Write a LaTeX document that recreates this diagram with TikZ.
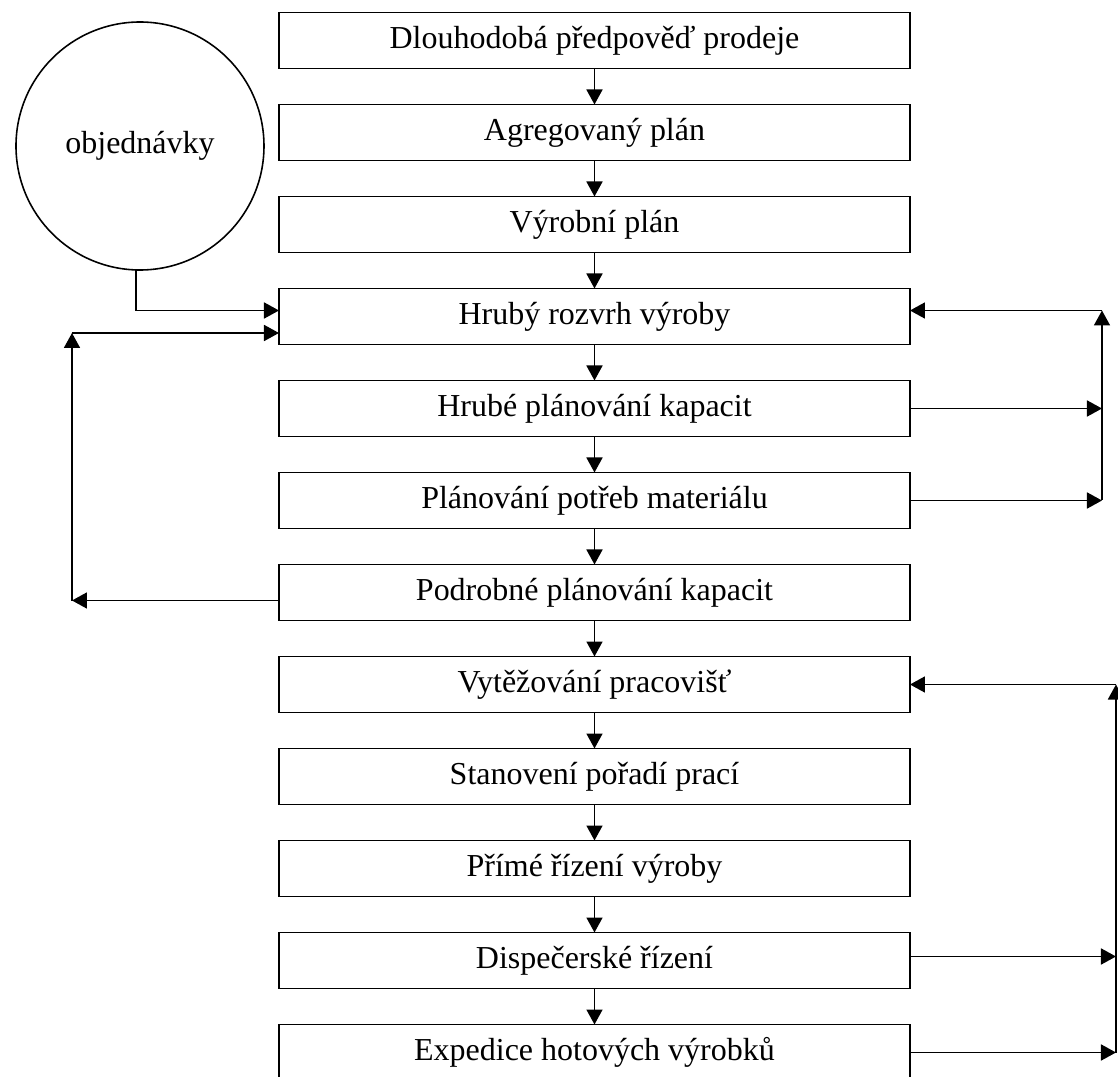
\documentclass[tikz,border=0pt]{standalone}
\usepackage{fontspec}
\setmainfont{Liberation Serif}
\usepackage{tikz}
\usetikzlibrary{arrows.meta,positioning,calc}
\tikzset{
  planbox/.style={draw,line width=0.9pt,minimum width=12.62cm,minimum height=1.12cm,
    inner sep=0pt,outer sep=0pt,align=center,font=\fontsize{18.2}{22}\selectfont},
  orders/.style={draw,line width=0.9pt,circle,minimum size=4.96cm,inner sep=0pt,
    outer sep=0pt,font=\fontsize{18.2}{22}\selectfont},
  arrow/.style={-{Triangle[length=0.3cm,width=0.32cm]},line width=1pt}
}
\begin{document}
\begin{tikzpicture}[node distance=0.72cm]
      \clip (-11.89,0.81) rectangle (10.47,-20.73);
      \node[planbox] (a) {Dlouhodobá předpověď prodeje};
      \node[planbox,below=of a] (b) {Agregovaný plán};
      \node[planbox,below=of b] (c) {Výrobní plán};
      \node[planbox,below=of c] (d) {Hrubý rozvrh výroby};
      \node[planbox,below=of d] (e) {Hrubé plánování kapacit};
      \node[planbox,below=of e] (f) {Plánování potřeb materiálu};
      \node[planbox,below=of f] (g) {Podrobné plánování kapacit};
      \node[planbox,below=of g] (h) {Vytěžování pracovišť};
      \node[planbox,below=of h] (i) {Stanovení pořadí prací};
      \node[planbox,below=of i] (j) {Přímé řízení výroby};
      \node[planbox,below=of j] (k) {Dispečerské řízení};
      \node[planbox,below=of k] (l) {Expedice hotových výrobků};
      \node[orders,left=0.3cm of b,yshift=-0.27cm] (obj) {objednávky};
      \foreach \u/\v in {a/b,b/c,c/d,d/e,e/f,f/g,g/h,h/i,i/j,j/k,k/l}
        \draw[arrow] (\u)--(\v);
      % orders and feedback on the left
      \draw[arrow] ([xshift=-0.08cm]obj.south) |- ([yshift=0.12cm]d.west);
      \coordinate (lb) at ($(g.west)+(-4.14,-0.16)$);
      \coordinate (lt) at ($(d.west)+(-4.14,-0.33)$);
      \draw[arrow] ([yshift=-0.16cm]g.west)--(lb);
      \draw[arrow] (lb)--(lt);
      \draw[arrow] (lt)--([yshift=-0.33cm]d.west);
      % capacity loop
      \coordinate (rb) at ($(f.east)+(3.84,0)$);
      \coordinate (rt) at ($(d.east)+(3.84,0.12)$);
      \draw[arrow] (e.east)--(e.east -| rb);
      \draw[arrow] (f.east)--(rb);
      \draw[arrow] (rb)--(rt);
      \draw[arrow] (rt)--([yshift=0.12cm]d.east);
      % shop floor loop
      \coordinate (sb) at ($(l.east)+(4.12,0)$);
      \coordinate (st) at ($(h.east)+(4.12,0)$);
      \draw[arrow] ([yshift=0.08cm]k.east)--([yshift=0.08cm]k.east -| sb);
      \draw[arrow] (l.east)--(sb);
      \draw[arrow] (sb)--(st);
      \draw[arrow] (st)--(h.east);
    \end{tikzpicture}
\end{document}
